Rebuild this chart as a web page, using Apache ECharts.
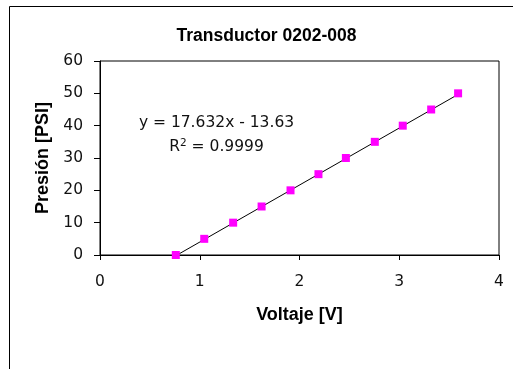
<!DOCTYPE html>
<html>
<head>
<meta charset="utf-8">
<script src="https://cdn.jsdelivr.net/npm/echarts@6/dist/echarts.min.js"></script>
<style>
html,body{margin:0;padding:0;background:#fff;}
#chart{width:513px;height:369px;}
</style>
</head>
<body>
<div id="chart"></div>
<script>
// Data
const voltaje = [0.76, 1.045, 1.335, 1.62, 1.91, 2.19, 2.465, 2.755, 3.035, 3.32, 3.59];
const presion = [0, 5, 10, 15, 20, 25, 30, 35, 40, 45, 50];
const xTicks = [0, 1, 2, 3, 4];
const yTicks = [0, 10, 20, 30, 40, 50, 60];
const trendSlope = 17.632;
const trendIntercept = -13.63;
const titleText = 'Transductor 0202-008';
const xName = 'Voltaje [V]';
const yName = 'Presión [PSI]';
const eqLine1 = 'y = 17.632x - 13.63';
const eqLine2 = 'R{sup|2} = 0.9999';

const points = voltaje.map((v, i) => [v, presion[i]]);
const xMin = Math.min(...voltaje), xMax = Math.max(...voltaje);
const trend = [xMin, xMax].map(x => [x, trendSlope * x + trendIntercept]);

const regFont = 'DejaVu Sans';
const boldFont = '"Liberation Sans", Arial, sans-serif';

const chart = echarts.init(document.getElementById('chart'), null, {renderer: 'canvas'});
chart.setOption({
  animation: false,
  backgroundColor: '#fff',
  grid: {left: 100, right: 14, top: 61, bottom: 114, show: true, borderColor: '#000', borderWidth: 1, backgroundColor: 'transparent'},
  xAxis: {
    type: 'value', min: xTicks[0], max: xTicks[xTicks.length - 1], interval: 1,
    name: xName, nameLocation: 'middle', nameGap: 51,
    nameTextStyle: {fontFamily: boldFont, fontWeight: 'bold', fontSize: 18, color: '#000', lineHeight: 18},
    axisLine: {show: true, onZero: false, lineStyle: {color: '#000', width: 1}},
    axisTick: {show: true, inside: false, length: 5, lineStyle: {color: '#000'}},
    axisLabel: {fontFamily: regFont, fontSize: 15.5, color: '#111', margin: 19, lineHeight: 16},
    splitLine: {show: false}
  },
  yAxis: {
    type: 'value', min: yTicks[0], max: yTicks[yTicks.length - 1], interval: 10,
    name: yName, nameLocation: 'middle', nameGap: 46,
    nameTextStyle: {fontFamily: boldFont, fontWeight: 'bold', fontSize: 18, color: '#000', lineHeight: 18},
    axisLine: {show: true, onZero: false, lineStyle: {color: '#000', width: 1}},
    axisTick: {show: true, inside: false, length: 6, lineStyle: {color: '#000'}},
    axisLabel: {fontFamily: regFont, fontSize: 15.5, color: '#111', margin: 17},
    splitLine: {show: false}
  },
  graphic: [
    {type: 'rect', shape: {x: 9.5, y: 6.5, width: 520, height: 420}, style: {fill: 'none', stroke: '#000', lineWidth: 1}, silent: true, z: -10},
    {type: 'text', x: 266.5, y: 36, style: {text: titleText, font: 'bold 17.5px "Liberation Sans", Arial, sans-serif', fill: '#000', textAlign: 'center', textVerticalAlign: 'middle'}},
    {type: 'text', x: 216.5, y: 123, style: {text: eqLine1, font: '15.5px "DejaVu Sans"', fill: '#111', textAlign: 'center', textVerticalAlign: 'middle'}},
    {type: 'text', x: 216.5, y: 147, style: {
      text: eqLine2, fontFamily: 'DejaVu Sans', fontSize: 15.5, fill: '#111', align: 'center', verticalAlign: 'middle',
      rich: {sup: {fontFamily: 'DejaVu Sans', fontSize: 10.5, fill: '#111', verticalAlign: 'top', lineHeight: 18}}
    }}
  ],
  series: [
    {
      type: 'line', data: trend, showSymbol: false, symbol: 'none',
      lineStyle: {color: '#000', width: 1}, z: 2, silent: true
    },
    {
      type: 'scatter', data: points, symbol: 'rect', symbolSize: 8,
      itemStyle: {color: '#FF00FF', opacity: 1}, z: 3
    }
  ]
});
</script>
</body>
</html>
